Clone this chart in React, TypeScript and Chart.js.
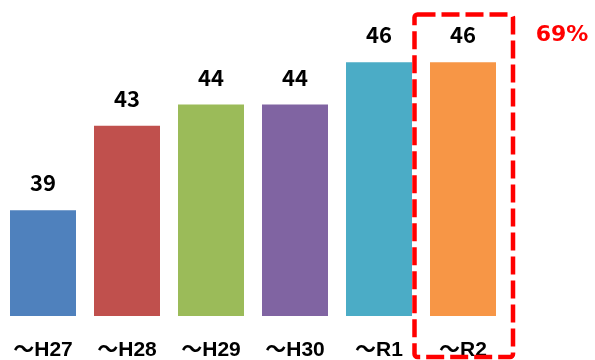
import React, { useEffect, useRef } from "react";
import { Chart, registerables } from "chart.js";
Chart.register(...registerables);

const categories = ["～H27", "～H28", "～H29", "～H30", "～R1", "～R2"];
const values = [39, 43, 44, 44, 46, 46];
const colors = ["#4F81BD", "#C0504D", "#9BBB59", "#8064A2", "#4BACC6", "#F79646"];
const highlightIndex = 5;
const highlightLabel = "69%";

const FONT = "'Noto Sans CJK JP', 'Noto Sans', sans-serif";
const AXIS_FONT = "'Liberation Sans', 'Noto Sans CJK JP', sans-serif";

export default function App() {
  const ref = useRef<HTMLCanvasElement>(null);
  useEffect(() => {
    if (!ref.current) return;
    const valueLabels = {
      id: "valueLabels",
      afterDatasetsDraw(chart: any) {
        const ctx = chart.ctx;
        const meta = chart.getDatasetMeta(0);
        ctx.save();
        ctx.font = `bold 22px ${FONT}`;
        ctx.fillStyle = "#000";
        ctx.textAlign = "center";
        ctx.textBaseline = "alphabetic";
        meta.data.forEach((bar: any, i: number) => {
          ctx.fillText(String(values[i]), bar.x, bar.y - 19);
        });
        ctx.restore();
      },
    };
    const highlight = {
      id: "highlight",
      afterDraw(chart: any) {
        const ctx = chart.ctx;
        const xs = chart.scales.x;
        const cx = xs.getPixelForValue(highlightIndex);
        const left = cx - 48.5;
        const right = cx + 50;
        const top = 14.5;
        const bottom = chart.height - 3;
        ctx.save();
        ctx.strokeStyle = "#FF0000";
        ctx.lineWidth = 4.5;
        ctx.setLineDash([18, 6]);
        ctx.beginPath();
        (ctx as any).roundRect(left, top, right - left, bottom - top, 3);
        ctx.stroke();
        ctx.setLineDash([]);
        ctx.font = `bold 22px 'DejaVu Sans', sans-serif`;
        ctx.fillStyle = "#FF0000";
        ctx.textAlign = "center";
        ctx.textBaseline = "alphabetic";
        ctx.fillText(highlightLabel, right + 49, 41);
        ctx.restore();
      },
    };
    const chart = new Chart(ref.current, {
      type: "bar",
      data: {
        labels: categories,
        datasets: [
          {
            data: values,
            backgroundColor: colors,
            borderWidth: 0,
            barPercentage: 66 / 84,
            categoryPercentage: 1,
          },
        ],
      },
      options: {
        responsive: false,
        animation: false,
        layout: { padding: { top: 20, left: 1, right: 90, bottom: 0 } },
        plugins: { legend: { display: false }, tooltip: { enabled: false } },
        scales: {
          y: { display: false, min: 34, max: 48 },
          x: {
            grid: { display: false, drawTicks: true, tickLength: 24 },
            border: { display: false },
            ticks: {
              color: "#000",
              padding: 0,
              font: { family: AXIS_FONT, size: 21, weight: "bold", lineHeight: 1 },
            },
            afterFit(scale: any) {
              scale.height = 44;
            },
          },
        },
      },
      plugins: [valueLabels, highlight],
    });
    return () => chart.destroy();
  }, []);
  return (
    <div style={{ position: "fixed", left: 0, top: 0, width: 595, height: 360, background: "#fff" }}>
      <canvas ref={ref} width={595} height={360} />
    </div>
  );
}
